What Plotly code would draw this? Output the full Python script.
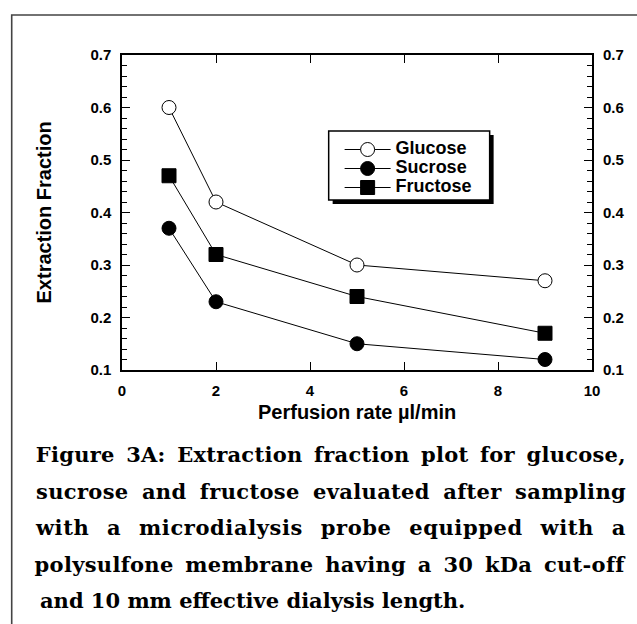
import plotly.graph_objects as go

# ---- data ----
rate = [1, 2, 5, 9]
glucose = [0.60, 0.42, 0.30, 0.27]
sucrose = [0.37, 0.23, 0.15, 0.12]
fructose = [0.47, 0.32, 0.24, 0.17]
series_names = ["Glucose", "Sucrose", "Fructose"]
x_ticks = [0, 2, 4, 6, 8, 10]
y_ticks = [0.1, 0.2, 0.3, 0.4, 0.5, 0.6, 0.7]
x_title = "Perfusion rate µl/min"
y_title = "Extraction Fraction"
caption_lines = [
    "Figure 3A: Extraction fraction plot for glucose,",
    "sucrose and fructose evaluated after sampling",
    "with a microdialysis probe equipped with a",
    "polysulfone membrane having a 30 kDa cut-off",
    "and 10 mm effective dialysis length.",
]

W, H = 637, 624
L, R, T, B = 122, 595, 55, 370


def px(x):
    return (x - L) / (R - L)


def py(y):
    return (B - y) / (B - T)


SANS = "Liberation Sans, Arial, sans-serif"
SERIF = "DejaVu Serif, Liberation Serif, serif"

fig = go.Figure()
styles = [
    dict(symbol="circle", color="white"),
    dict(symbol="circle", color="black"),
    dict(symbol="square", color="black"),
]
for name, vals, st in zip(series_names, [glucose, sucrose, fructose], styles):
    fig.add_trace(go.Scatter(
        x=rate, y=vals, name=f"<span style='font-size:18px'>{name}</span>",
        mode="lines+markers",
        line=dict(color="black", width=1),
        marker=dict(symbol=st["symbol"], color=st["color"], size=14,
                    line=dict(color="black", width=1)),
    ))
# empty trace to activate right-hand axis
fig.add_trace(go.Scatter(x=[], y=[], yaxis="y2", showlegend=False, hoverinfo="skip"))

tickfont = dict(family=SANS, size=15, color="black", weight="bold")
fig.update_layout(
    width=W, height=H,
    margin=dict(l=L, r=W - R, t=T, b=H - B, pad=0),
    paper_bgcolor="white", plot_bgcolor="white",
    showlegend=True,
    legend=dict(x=px(341), y=py(135), xanchor="left", yanchor="top",
                bgcolor="rgba(0,0,0,0)", borderwidth=0, itemwidth=46,
                font=dict(family=SANS, size=12, color="black", weight="bold")),
    xaxis=dict(range=[0, 10], tickvals=x_ticks, showgrid=False, zeroline=False,
               showline=True, linecolor="black", linewidth=1.5, mirror="ticks",
               ticks="inside", ticklen=8, tickwidth=1.2, tickcolor="black",
               tickfont=tickfont, ticklabelstandoff=6),
    yaxis=dict(range=[0.1, 0.7], tickvals=y_ticks, tickformat=".1f", showgrid=False,
               zeroline=False, showline=True, linecolor="black", linewidth=1.5,
               mirror="ticks", ticks="inside", ticklen=8, tickwidth=1.2,
               tickcolor="black", tickfont=tickfont, ticklabelstandoff=6,
               minor=dict(dtick=0.02, ticks="inside", ticklen=5, tickwidth=1,
                          tickcolor="black", showgrid=False)),
    yaxis2=dict(range=[0.1, 0.7], tickvals=y_ticks, tickformat=".1f", overlaying="y",
                side="right", showgrid=False, zeroline=False, showline=False,
                ticks="", tickfont=tickfont, ticklabelstandoff=10),
)

shapes = []
# outer frame (cut at right and bottom)
shapes.append(dict(type="rect", xref="paper", yref="paper",
                   x0=px(11), x1=px(W + 5), y0=py(15), y1=py(H + 5),
                   line=dict(color="#444", width=1.6), fillcolor="rgba(0,0,0,0)"))
# legend shadow and box
shapes.append(dict(type="rect", xref="paper", yref="paper",
                   x0=px(334), x1=px(496), y0=py(135), y1=py(204),
                   line=dict(width=0), fillcolor="black", layer="above"))
shapes.append(dict(type="rect", xref="paper", yref="paper",
                   x0=px(330), x1=px(492), y0=py(131), y1=py(200),
                   line=dict(color="black", width=1.5), fillcolor="white", layer="above"))
fig.update_layout(shapes=shapes)

ann = []
ann.append(dict(xref="paper", yref="paper", x=px(44), y=py(212), text=y_title,
                textangle=-90, showarrow=False, xanchor="center", yanchor="middle",
                font=dict(family=SANS, size=20, color="black", weight="bold")))
ann.append(dict(xref="paper", yref="paper", x=px(358), y=py(412), text=x_title,
                showarrow=False, xanchor="center", yanchor="middle",
                font=dict(family=SANS, size=20, color="black", weight="bold")))
cap_y = [454, 491, 527, 564, 600]
cap_left, cap_right = 37, 627
for i, (line, yy) in enumerate(zip(caption_lines, cap_y)):
    last = i == len(caption_lines) - 1
    ann.append(dict(xref="paper", yref="paper",
                    x=px(cap_left) if last else px((cap_left + cap_right) / 2),
                    xanchor="left" if last else "center",
                    y=py(yy), yanchor="middle", text=line, showarrow=False,
                    font=dict(family=SERIF, size=21, color="black", weight="bold")))
fig.update_layout(annotations=ann)

# justify caption lines (all but the last) by widening the word gaps
post = """
document.body.style.margin = '0';
document.body.style.overflow = 'hidden';
var gd = document.getElementById('{plot_id}');
var just = %s;
var W = %d;
gd.querySelectorAll('text.annotation-text').forEach(function(t){
  if (just.indexOf(t.textContent) >= 0) {
    var n = (t.textContent.match(/ /g) || []).length;
    var w0 = t.getComputedTextLength();
    var nc = t.textContent.length;
    var extra = W - w0;
    if (extra > 0 && n > 0) {
      var ls = Math.min(0.6, extra * 0.35 / nc);
      t.style.letterSpacing = ls + 'px';
      var w = t.getComputedTextLength();
      t.style.wordSpacing = Math.max(0, (W - w) / n) + 'px';
    }
  }
});
""" % (str(caption_lines[:-1]).replace("'", '"'), cap_right - cap_left)

fig.write_html("out.html", post_script=post, config={"displayModeBar": False})
